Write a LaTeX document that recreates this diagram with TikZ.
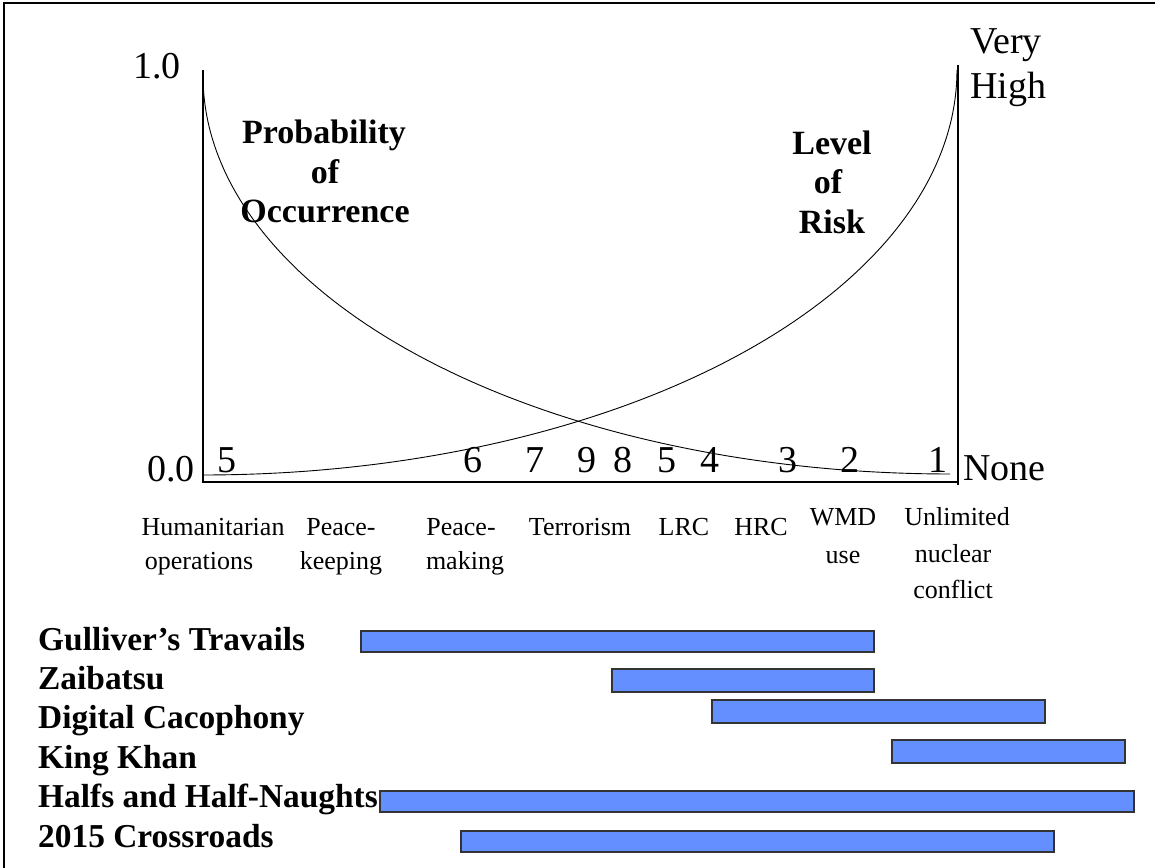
\documentclass[tikz,border=0pt]{standalone}
\usepackage{fontspec}
\setmainfont{Liberation Serif}
\definecolor{barblue}{RGB}{99,143,255}
\begin{document}
\begin{tikzpicture}[x=1pt,y=-1pt,
  big/.style={font=\fontsize{38}{44}\selectfont, inner sep=0pt, anchor=base},
  bigw/.style={big, anchor=base west},
  cat/.style={font=\fontsize{26}{32}\selectfont, inner sep=0pt, anchor=base},
  ttl/.style={font=\bfseries\fontsize{34}{40}\selectfont, inner sep=0pt, anchor=base},
  scen/.style={font=\bfseries\fontsize{33.4}{40}\selectfont, inner sep=0pt, anchor=base west},
  axis/.style={line width=2pt},
  curve/.style={line width=0.9pt},
  bar/.style={fill=barblue, draw=black!80, line width=1.3pt}]
\useasboundingbox (0,0) rectangle (1155,867);
% frame
\draw[line width=1.3pt] (1160,3) -- (4,3) -- (4,870);
% axes
\coordinate (tl) at (203,70);
\coordinate (o) at (203,482);
\coordinate (br) at (958,482);
\coordinate (tr) at (958,65);
\draw[axis] (tl) -- (o) -- (br);
\draw[axis] (tr) -- (958,485);
% curves
\draw[curve] plot[domain=0:90, samples=80, smooth] ({950-747*cos(\x)},{76+398*sin(\x)});
\draw[curve] plot[domain=0:90, samples=80, smooth] ({203+754*sin(\x)},{70+405*cos(\x)});
% axis labels
\node[bigw] (one) at (133,78) {1.0};
\node[bigw] (zero) at (147,481) {0.0};
\node[bigw] (none) at (963,480) {None};
\node[bigw] (very) at (970,53) {Very};
\node[bigw] (high) at (970,98) {High};
% numbers
\node[big] (n5a) at (227,472) {5};
\node[big] (n6) at (473,472) {6};
\node[big] (n7) at (535,472) {7};
\node[big] (n9) at (587,472) {9};
\node[big] (n8) at (623,472) {8};
\node[big] (n5b) at (667,472) {5};
\node[big] (n4) at (710,472) {4};
\node[big] (n3) at (788,472) {3};
\node[big] (n2) at (850,472) {2};
\node[big] (n1) at (938,472) {1};
% titles
\node[ttl] (p1) at (324,143) {Probability};
\node[ttl] (p2) at (325,183) {of};
\node[ttl] (p3) at (325,222) {Occurrence};
\node[ttl] (r1) at (832,154) {Level};
\node[ttl] (r2) at (828,193) {of};
\node[ttl] (r3) at (832,233) {Risk};
% categories
\node[cat] (c1a) at (213,535) {Humanitarian};
\node[cat] (c1b) at (199,569) {operations};
\node[cat] (c2a) at (341,535) {Peace-};
\node[cat] (c2b) at (341,569) {keeping};
\node[cat] (c3a) at (461,535) {Peace-};
\node[cat] (c3b) at (465,569) {making};
\node[cat] (c4) at (580,535) {Terrorism};
\node[cat] (c5) at (684,535) {LRC};
\node[cat] (c6) at (761,535) {HRC};
\node[cat] (c7a) at (843,525) {WMD};
\node[cat] (c7b) at (843,563) {use};
\node[cat] (c8a) at (957,525) {Unlimited};
\node[cat] (c8b) at (953,562) {nuclear};
\node[cat] (c8c) at (953,598) {conflict};
% scenarios
\node[scen] (s1) at (38,650) {Gulliver’s Travails};
\node[scen] (s2) at (38,689) {Zaibatsu};
\node[scen] (s3) at (38,728) {Digital Cacophony};
\node[scen] (s4) at (38,768) {King Khan};
\node[scen] (s5) at (38,807) {Halfs and Half-Naughts};
\node[scen] (s6) at (38,847) {2015 Crossroads};
% bars
\path[bar] (361,631) rectangle (874,652);
\path[bar] (612,669) rectangle (874,692);
\path[bar] (712,700) rectangle (1045,723);
\path[bar] (892,740) rectangle (1125,763);
\path[bar] (380,791) rectangle (1134,812);
\path[bar] (461,831) rectangle (1054,852);
\end{tikzpicture}
\end{document}
